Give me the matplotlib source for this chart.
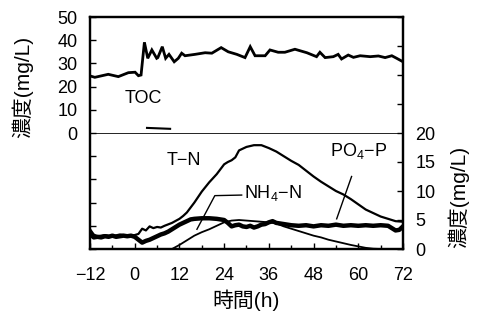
import matplotlib
matplotlib.use('Agg')
import matplotlib.pyplot as plt

plt.rcParams['font.family'] = ['Liberation Sans', 'Noto Sans CJK JP']
plt.rcParams['mathtext.fontset'] = 'custom'
plt.rcParams['mathtext.rm'] = 'Liberation Sans'
plt.rcParams['mathtext.it'] = 'Liberation Sans:italic'
plt.rcParams['axes.unicode_minus'] = True

# ---- data (hours, mg/L) ----
toc_h = [-12, -10.7, -7.1, -4.4, -1.7, 0.1, 1.0, 1.7, 2.6, 3.5, 4.6, 5.9, 6.2, 7.4, 8.3, 9.2,
         10.6, 11.7, 12.6, 13.5, 16.2, 18.9, 20.7, 23.2, 25.1, 27.4, 29.6, 31.0, 32.3, 35.0,
         36.3, 38.5, 40.3, 43.0, 46.2, 48.8, 49.7, 51.1, 53.3, 54.6, 55.5, 57.3, 58.7, 60.5,
         63.2, 65.4, 67.2, 69.0, 70.3, 72.0]
toc_v = [24.6, 24.0, 25.3, 24.3, 26.0, 26.2, 24.7, 25.0, 39.1, 32.2, 35.8, 32.2, 32.5, 37.2, 32.2, 33.9,
         30.7, 32.2, 34.4, 33.3, 33.9, 34.6, 34.4, 36.8, 35.0, 33.9, 32.5, 37.2, 33.3, 33.3,
         35.8, 34.8, 34.8, 36.1, 34.6, 32.9, 34.8, 32.5, 32.9, 33.9, 31.9, 33.6, 32.6, 33.3,
         32.9, 33.2, 32.5, 33.3, 32.2, 30.7]

tn_h = [-12, -11, -10, -8, -6, -4, -2, 0, 1, 2, 3, 4, 5, 6, 7, 8, 10, 12, 13, 14, 16, 18, 20,
        22, 24, 25, 26, 27, 28, 30, 32, 34, 36, 38, 40, 42, 44, 46, 48, 50, 52, 54, 56, 58,
        60, 62, 64, 66, 68, 70, 72]
tn_v = [3.4, 2.5, 2.2, 2.4, 2.2, 2.5, 2.3, 2.4, 2.6, 3.5, 3.2, 3.9, 3.6, 3.8, 3.7, 4.0, 4.5, 5.2, 5.7, 6.3, 8.0, 9.9, 11.5,
        12.9, 14.6, 15.0, 15.3, 15.8, 17.0, 17.6, 17.9, 17.9, 17.4, 16.8, 16.0, 15.2, 14.5, 13.5, 12.5, 11.6, 10.8, 10.0, 9.4, 8.6,
        7.7, 6.8, 6.2, 5.6, 5.2, 4.8, 4.7]

nh4_h = [10, 12, 14, 16, 18, 20, 22, 24, 26, 28, 30, 32, 34, 36, 38, 40, 42, 44, 46, 48, 50,
         52, 54, 56, 58, 60, 62, 64, 66, 72]
nh4_v = [0.0, 0.7, 1.5, 2.3, 2.9, 3.4, 4.0, 4.6, 4.9, 5.0, 4.9, 4.8, 4.7, 4.6, 4.4, 3.9, 3.5, 3.1, 2.7, 2.3, 2.0,
         1.6, 1.3, 1.0, 0.7, 0.45, 0.2, 0.05, 0.0, 0.0]

po4_h = [-12, -11, -10, -9, -8, -7, -6, -5, -4, -3, -2, -1, 0, 1, 2, 3, 4, 5, 6, 7, 8, 9, 10, 11,
         12, 13, 14, 15, 16, 18, 20, 22, 24, 25, 26, 27, 28, 29, 30, 31, 32, 33, 34, 35, 36, 37,
         38, 40, 42, 44, 46, 48, 50, 52, 54, 56, 58, 60, 62, 64, 66, 68, 69, 70, 71, 72]
po4_v = [2.6, 2.0, 2.1, 2.0, 2.2, 2.1, 2.3, 2.1, 2.2, 2.3, 2.2, 2.3, 2.1, 1.6, 1.1, 1.4, 1.6, 1.9, 2.2, 2.5, 2.7, 3.0, 3.4, 3.8,
         4.2, 4.5, 4.8, 5.1, 5.2, 5.3, 5.3, 5.2, 5.0, 4.5, 3.9, 4.1, 4.2, 3.9, 3.8, 4.0, 3.7, 3.9, 4.2, 4.3, 4.6, 4.8,
         4.5, 4.3, 4.1, 4.0, 4.1, 3.9, 4.1, 4.0, 4.2, 4.0, 4.1, 4.0, 4.1, 4.0, 4.1, 4.0, 3.6, 3.2, 3.3, 3.9]

x_ticks = [-12, 0, 12, 24, 36, 48, 60, 72]
left_ticks = [-50, -40, -30, -20, -10, 0, 10, 20, 30, 40, 50]
left_labels = ['', '', '', '', '', '0', '10', '20', '30', '40', '50']
right_ticks = [0, 5, 10, 15, 20, 25, 30, 35, 40]
right_labels = ['0', '5', '10', '15', '20', '', '', '', '']

fig = plt.figure(figsize=(4.81, 3.16), dpi=100)
ax = fig.add_axes([90/481, 1-249/316, 313/481, 232/316])
ax2 = ax.twinx()

ax.plot(toc_h, toc_v, color='black', lw=2.0, solid_joinstyle='miter')
ax.axhline(0, color='black', lw=0.6)
ax.plot([3.3, 9.5], [2.2, 1.8], color='black', lw=1.5)  # small stray mark
ax.set_xlim(-12, 72)
ax.set_ylim(-50, 50)
ax.set_xticks(x_ticks)
ax.set_xticks(range(-12, 73, 6), minor=True)
ax.set_yticks(left_ticks)
ax.set_yticklabels(left_labels)
ax.tick_params(axis='both', direction='in', length=4, width=1, labelsize=13)
ax.tick_params(axis='x', which='minor', direction='in', length=3, width=1)
ax.tick_params(axis='y', pad=9)
ax.tick_params(axis='x', pad=13)

ax2.plot(tn_h, tn_v, color='black', lw=1.6)
ax2.plot(nh4_h, nh4_v, color='black', lw=1.3)
ax2.plot(po4_h, po4_v, color='black', lw=3.2)
ax2.set_ylim(0, 40)
ax2.set_yticks(right_ticks)
ax2.set_yticklabels(right_labels)
ax2.tick_params(axis='y', direction='in', length=4, width=1, labelsize=13, pad=9)

for a in (ax, ax2):
    for s in a.spines.values():
        s.set_linewidth(1.6)

# labels
ax.text(2.2, 15, 'TOC', fontsize=13, ha='center', va='center')
ax2.text(13.2, 15.3, 'T−N', fontsize=13, ha='center', va='center')
ax2.text(37.0, 9.6, r'NH$_\mathrm{4}$−N', fontsize=13, ha='center', va='center')
ax2.text(60.2, 16.9, r'PO$_\mathrm{4}$−P', fontsize=13, ha='center', va='center')
# leader lines
ax2.plot([28.7, 21.5, 16.7], [9.3, 9.2, 3.4], color='black', lw=1.0)
ax2.plot([58.2, 54.2], [12.5, 5.2], color='black', lw=1.0)

fig.text(22/481, 1-87/316, '濃度(mg/L)', rotation=90, ha='center', va='center', fontsize=15)
fig.text(458/481, 1-197/316, '濃度(mg/L)', rotation=90, ha='center', va='center', fontsize=15)
fig.text(246/481, 1-300/316, '時間(h)', ha='center', va='center', fontsize=15)

fig.savefig('out.png', dpi=100)
